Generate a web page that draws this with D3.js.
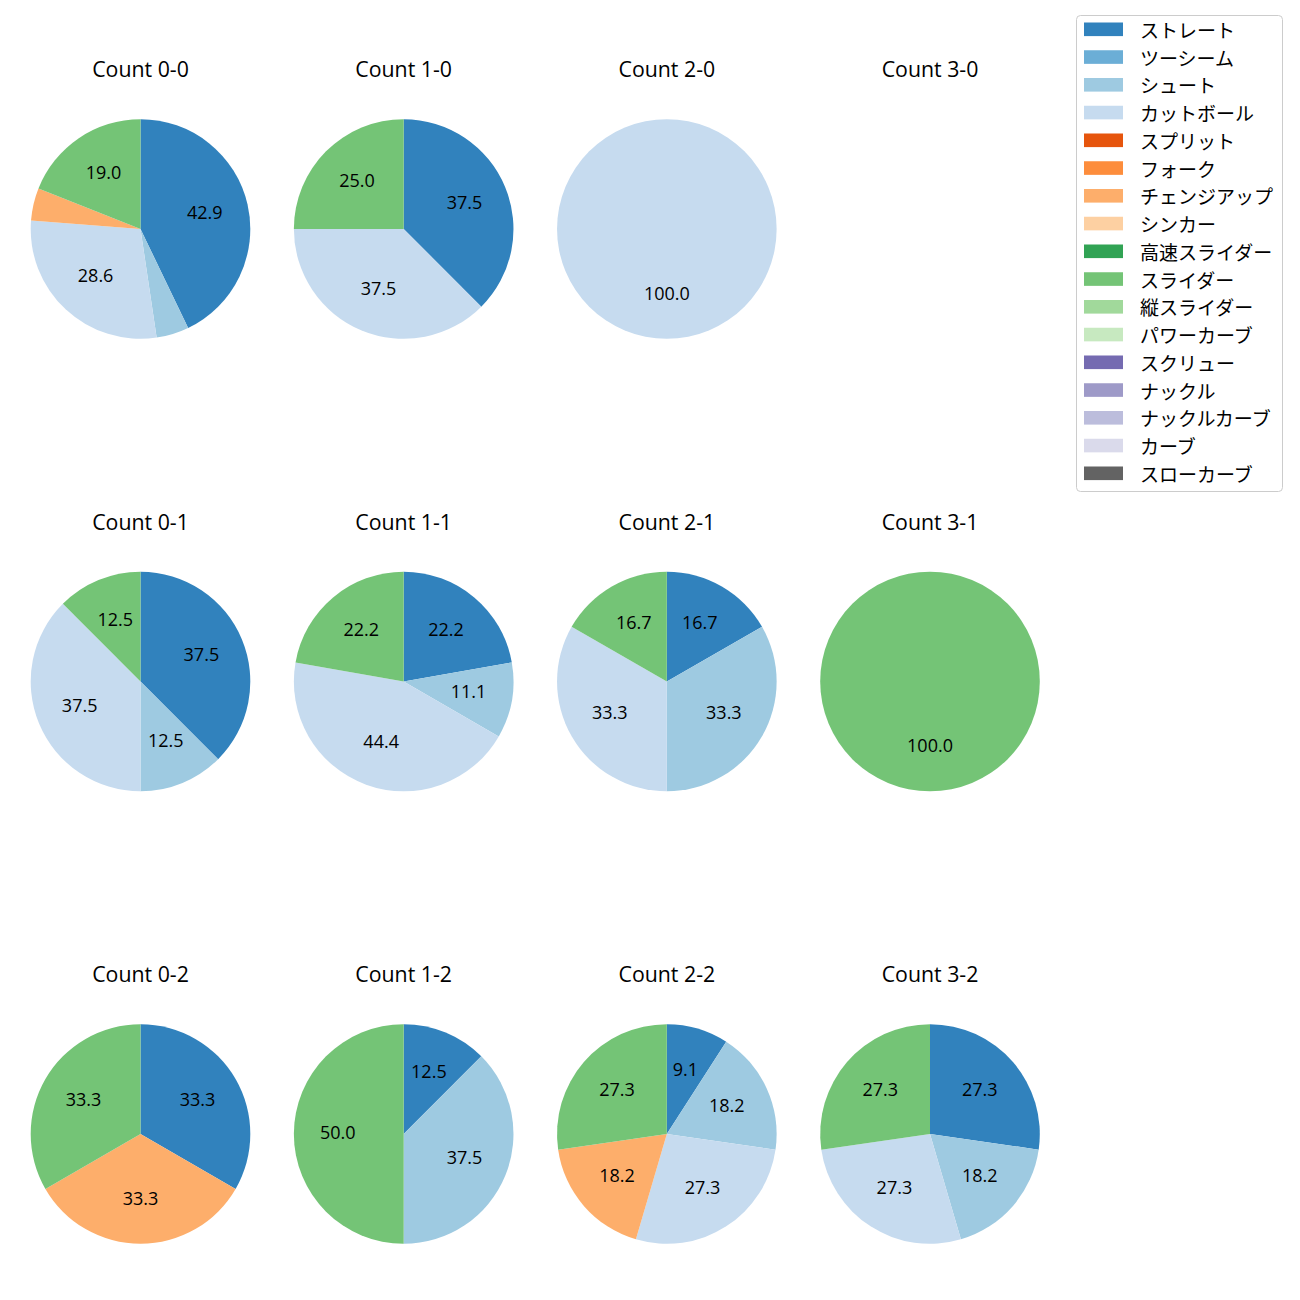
<!DOCTYPE html>
<html><head><meta charset="utf-8">
<script src="https://cdn.jsdelivr.net/npm/d3@7"></script>
<style>body{margin:0;background:#fff;} svg{display:block;}</style>
</head><body>
<script>
const pitchTypes = ["ストレート","ツーシーム","シュート","カットボール","スプリット","フォーク","チェンジアップ","シンカー","高速スライダー","スライダー","縦スライダー","パワーカーブ","スクリュー","ナックル","ナックルカーブ","カーブ","スローカーブ"];
const pitchColors = ["#3182bd","#6baed6","#9ecae1","#c6dbef","#e6550d","#fd8d3c","#fdae6b","#fdd0a2","#31a354","#74c476","#a1d99b","#c7e9c0","#756bb1","#9e9ac8","#bcbddc","#dadaeb","#636363"];
const countLabels = [["Count 0-0","Count 1-0","Count 2-0","Count 3-0"],["Count 0-1","Count 1-1","Count 2-1","Count 3-1"],["Count 0-2","Count 1-2","Count 2-2","Count 3-2"]];
// percentage share of each pitch type (order of pitchTypes)
const count00 = [42.9,0,4.8,28.6,0,0,4.8,0,0,19.0,0,0,0,0,0,0,0];
const count10 = [37.5,0,0,37.5,0,0,0,0,0,25.0,0,0,0,0,0,0,0];
const count20 = [0,0,0,100.0,0,0,0,0,0,0,0,0,0,0,0,0,0];
const count30 = [0,0,0,0,0,0,0,0,0,0,0,0,0,0,0,0,0];
const count01 = [37.5,0,12.5,37.5,0,0,0,0,0,12.5,0,0,0,0,0,0,0];
const count11 = [22.2,0,11.1,44.4,0,0,0,0,0,22.2,0,0,0,0,0,0,0];
const count21 = [16.7,0,33.3,33.3,0,0,0,0,0,16.7,0,0,0,0,0,0,0];
const count31 = [0,0,0,0,0,0,0,0,0,100.0,0,0,0,0,0,0,0];
const count02 = [33.3,0,0,0,0,0,33.3,0,0,33.3,0,0,0,0,0,0,0];
const count12 = [12.5,0,37.5,0,0,0,0,0,0,50.0,0,0,0,0,0,0,0];
const count22 = [9.1,0,18.2,27.3,0,0,18.2,0,0,27.3,0,0,0,0,0,0,0];
const count32 = [27.3,0,18.2,27.3,0,0,0,0,0,27.3,0,0,0,0,0,0,0];
const gridValues = [[count00,count10,count20,count30],[count01,count11,count21,count31],[count02,count12,count22,count32]];

const W = 1300, H = 1300;
const latinFont = "'Open Sans','Noto Sans CJK JP',sans-serif";
const jpFont = "'Noto Sans CJK JP',sans-serif";
const svg = d3.select("body").append("svg").attr("width", W).attr("height", H);

const colX = d3.scalePoint().domain([0,1,2,3]).range([140.5, 930]);
const rowY = d3.scalePoint().domain([0,1,2]).range([229, 1134]);
const R = 109.8;
const color = d3.scaleOrdinal().domain(pitchTypes).range(pitchColors);

const pie = d3.pie().sort(null).value(d => d.v);
const arc = d3.arc().innerRadius(0).outerRadius(R);
const labelArc = d3.arc().innerRadius(R*0.6).outerRadius(R*0.6);
const labelSize = 18;

gridValues.forEach((row, ri) => {
  row.forEach((vals, ci) => {
    const cx = colX(ci), cy = rowY(ri);
    svg.append("text").attr("x", cx).attr("y", cy - 152)
      .attr("text-anchor","middle")
      .style("font-family", latinFont).style("font-size","21.3px").attr("fill","#000")
      .text(countLabels[ri][ci]);
    const data = pitchTypes.map((p,i) => ({p, v: vals[i]})).filter(d => d.v > 0);
    if (!data.length) return;
    const g = svg.append("g").attr("transform", `translate(${cx},${cy})`);
    const arcs = pie(data);
    g.selectAll("path").data(arcs).join("path")
      .attr("d", arc).attr("fill", d => color(d.data.p));
    g.selectAll("text").data(arcs.filter(d => d.data.v >= 5)).join("text")
      .attr("transform", d => { const c = labelArc.centroid(d); return `translate(${c[0]},${c[1] + 5})`; })
      .attr("text-anchor","middle")
      .style("font-family", latinFont).style("font-size", labelSize + "px").attr("fill","#000")
      .text(d => d.data.v.toFixed(1));
  });
});

// legend
const lg = svg.append("g");
lg.append("rect").attr("x",1076.5).attr("y",15.5).attr("width",206).attr("height",476)
  .attr("rx",4).attr("fill","#fff").attr("stroke","#cccccc").attr("stroke-width",1);
const ly = d3.scaleLinear().domain([0,16]).range([29.3, 473.3]);
pitchTypes.forEach((p,i) => {
  lg.append("rect").attr("x",1084).attr("y",ly(i)-6.8).attr("width",39).attr("height",13.6).attr("fill",color(p));
  lg.append("text").attr("x",1140).attr("y",ly(i)).attr("dominant-baseline","central")
    .style("font-family", jpFont).style("font-size","19px").attr("fill","#000").text(p);
});
</script>
</body></html>
